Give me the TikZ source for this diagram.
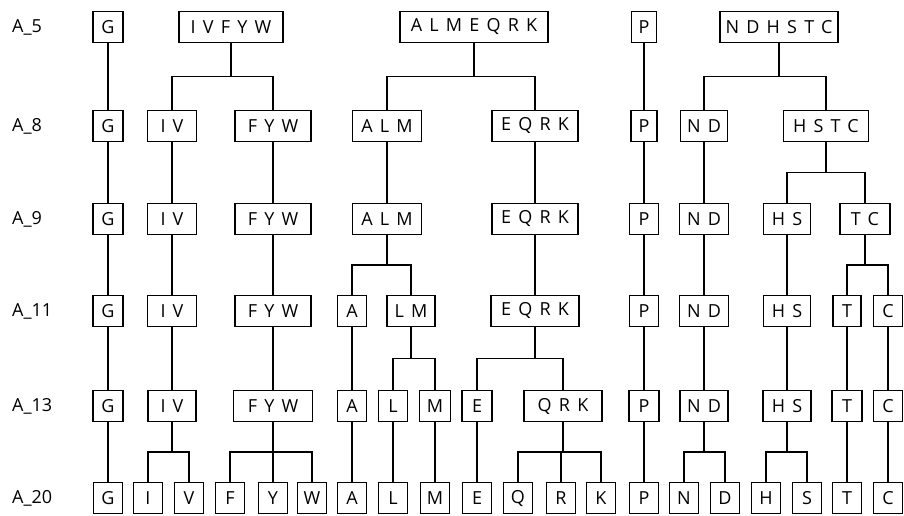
\documentclass[tikz,border=0pt]{standalone}
\usepackage{fontspec}
\setmainfont{Open Sans}
\newfontfamily\boxfont[LetterSpace=40]{Open Sans}
\usepackage{tikz}
\usetikzlibrary{calc}

\begin{document}
\begin{tikzpicture}[x=1pt, y=-1pt,
  tbox/.style={draw, line width=1.6pt, inner xsep=0pt, inner ysep=0pt,
    minimum width=#1, minimum height=31pt,
    font={\boxfont\fontsize{18}{21}\selectfont}},
  tbox/.default=29pt,
  lnk/.style={line width=1.4pt},
  rowlab/.style={anchor=west, inner sep=0pt, font={\fontsize{18}{21}\selectfont}},
]
  \useasboundingbox (0,0) rectangle (904,516);
  % row labels
  \foreach \r/\y in {5/27, 8/126, 9/219, 11/311, 13/406, 20/498}
    \node[rowlab] (lab-\r) at (12,\y) {A\_\r};
  % groups of each row: text/x/width
  \foreach \t/\x/\w in {G/108/30, IVFYW/231/104, ALMEQRK/474/148, P/644/25, NDHSTC/779/118}
    \node[tbox=\w] (\t-5) at (\x,27) {\t};
  \foreach \t/\x/\w in {G/108/30, IV/172/49, FYW/273/76, ALM/387/69, EQRK/535/86,
                        P/644/26, ND/704/47, HSTC/826/85}
    \node[tbox=\w] (\t-8) at (\x,126) {\t};
  \foreach \t/\x/\w in {G/108/30, IV/172/49, FYW/273/76, ALM/387/69, EQRK/535/86,
                        P/644/29, ND/704/49, HS/787/47, TC/865/50}
    \node[tbox=\w] (\t-9) at (\x,219) {\t};
  \foreach \t/\x/\w in {G/108/30, IV/172/49, FYW/273/76, A/352/29, LM/411/48, EQRK/535/88,
                        P/644/29, ND/704/49, HS/787/47, T/847/28, C/888/29}
    \node[tbox=\w] (\t-11) at (\x,311) {\t};
  \foreach \t/\x/\w in {G/108/30, IV/172/48, FYW/273/79, A/352/29, L/393/29, M/435/31,
                        E/477/30, QRK/563/78, P/644/30, ND/704/48, HS/787/48, T/847/30, C/888/29}
    \node[tbox=\w] (\t-13) at (\x,406) {\t};
  \foreach \t/\x in {G/108, I/148, V/189, F/230, Y/273, W/312, A/352, L/393, M/435, E/477,
                     Q/518, R/561, K/601, P/644, N/684, D/725, H/766, S/807, T/847, C/888}
    \node[tbox] (\t-20) at (\x,498) {\t};
  % unchanged groups
  \foreach \a/\b in {G-5/G-8, G-8/G-9, G-9/G-11, G-11/G-13, G-13/G-20,
                     P-5/P-8, P-8/P-9, P-9/P-11, P-11/P-13, P-13/P-20,
                     IV-8/IV-9, IV-9/IV-11, IV-11/IV-13,
                     FYW-8/FYW-9, FYW-9/FYW-11, FYW-11/FYW-13,
                     ALM-8/ALM-9, EQRK-8/EQRK-9, EQRK-9/EQRK-11,
                     ND-8/ND-9, ND-9/ND-11, ND-11/ND-13, HS-9/HS-11, HS-11/HS-13,
                     A-11/A-13, A-13/A-20, L-13/L-20, M-13/M-20, E-13/E-20,
                     T-11/T-13, T-13/T-20, C-11/C-13, C-13/C-20}
    \draw[lnk] (\a) -- (\b);
  % splits
  \foreach \a/\b in {IVFYW-5/IV-8, IVFYW-5/FYW-8, ALMEQRK-5/ALM-8, ALMEQRK-5/EQRK-8,
                     NDHSTC-5/ND-8, NDHSTC-5/HSTC-8, HSTC-8/HS-9, HSTC-8/TC-9,
                     ALM-9/A-11, ALM-9/LM-11, TC-9/T-11, TC-9/C-11,
                     LM-11/L-13, LM-11/M-13, EQRK-11/E-13, EQRK-11/QRK-13,
                     IV-13/I-20, IV-13/V-20, FYW-13/F-20, FYW-13/Y-20, FYW-13/W-20,
                     QRK-13/Q-20, QRK-13/R-20, QRK-13/K-20,
                     ND-13/N-20, ND-13/D-20, HS-13/H-20, HS-13/S-20}
    \draw[lnk] (\a.south) -- ($(\a.south)!.5!(\a.south |- \b.north)$) -| (\b.north);
\end{tikzpicture}
\end{document}
